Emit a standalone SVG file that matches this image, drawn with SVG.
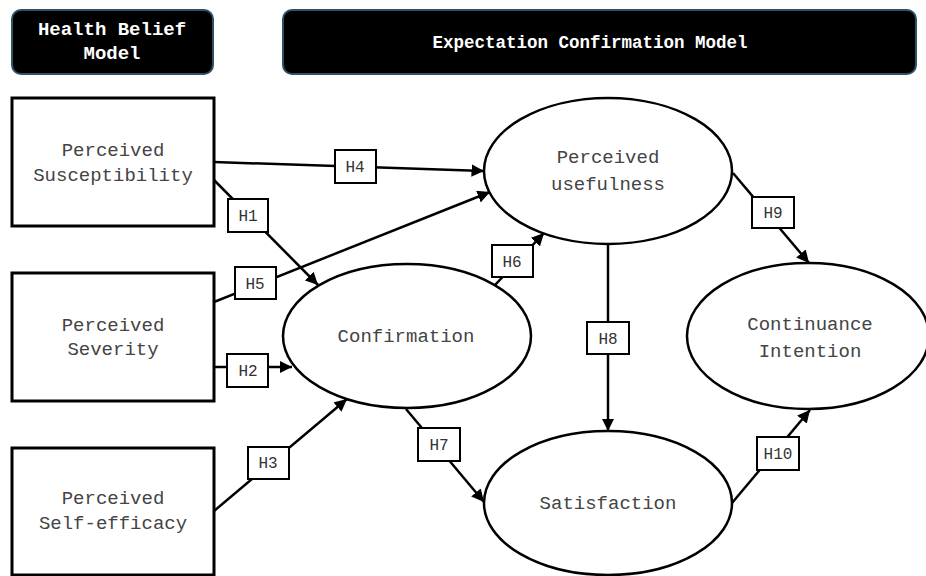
<svg xmlns="http://www.w3.org/2000/svg" width="926" height="576" viewBox="0 0 926 576">
<defs>
<marker id="arr" viewBox="0 0 10 10" refX="10" refY="5" markerWidth="5" markerHeight="5" orient="auto" markerUnits="strokeWidth">
<path d="M0,0 L10,5 L0,10 z" fill="#000"/>
</marker>
<style>
.hdr{fill:#000;stroke:#2f5366;stroke-width:2}
.htxt{font-family:"Courier New","Liberation Mono",monospace;font-weight:bold;font-size:19px;fill:#fff;text-anchor:middle}
.box{fill:#fff;stroke:#000;stroke-width:3}
.ell{fill:#fff;stroke:#000;stroke-width:2.5}
.ntxt{font-family:"Courier New","Liberation Mono",monospace;font-size:19px;fill:#444;text-anchor:middle}
.edge{stroke:#000;stroke-width:2.5;fill:none;marker-end:url(#arr)}
.lbl{fill:#fff;stroke:#000;stroke-width:2}
.ltxt{font-family:"Courier New","Liberation Mono",monospace;font-size:16px;fill:#333;text-anchor:middle}
</style>
</defs>
<rect width="926" height="576" fill="#fff"/>
<g id="hbm-header">
<rect class="hdr" x="12" y="10" width="201" height="64" rx="9"/>
<text class="htxt" x="112" y="35">Health Belief</text>
<text class="htxt" x="112" y="59">Model</text>
</g>
<g id="ecm-header">
<rect class="hdr" x="283" y="10" width="633" height="64" rx="9"/>
<text class="htxt" x="590" y="48" style="font-size:17.5px">Expectation Confirmation Model</text>
</g>
<g id="connectors">
<line class="edge" x1="214" y1="162" x2="484" y2="171"/>
<line class="edge" x1="214" y1="180" x2="318" y2="285"/>
<line class="edge" x1="214" y1="302" x2="490" y2="192"/>
<line class="edge" x1="495" y1="285" x2="544" y2="233"/>
<line class="edge" x1="214" y1="367" x2="292" y2="367"/>
<line class="edge" x1="214" y1="511" x2="347" y2="399"/>
<line class="edge" x1="406" y1="409" x2="484" y2="502"/>
<line class="edge" x1="608" y1="244" x2="608" y2="431"/>
<line class="edge" x1="733" y1="173" x2="809" y2="263"/>
<line class="edge" x1="732" y1="503" x2="810" y2="410"/>
<g id="labels">
<rect class="lbl" x="228" y="199" width="40" height="33"/><text class="ltxt" x="248" y="221">H1</text>
<rect class="lbl" x="227" y="354" width="41" height="33"/><text class="ltxt" x="248" y="376">H2</text>
<rect class="lbl" x="248" y="447" width="41" height="32"/><text class="ltxt" x="268" y="468">H3</text>
<rect class="lbl" x="335" y="150" width="41" height="33"/><text class="ltxt" x="355" y="172">H4</text>
<rect class="lbl" x="235" y="267" width="41" height="32"/><text class="ltxt" x="255" y="289">H5</text>
<rect class="lbl" x="492" y="245" width="41" height="32"/><text class="ltxt" x="512" y="267">H6</text>
<rect class="lbl" x="418" y="428" width="42" height="33"/><text class="ltxt" x="439" y="450">H7</text>
<rect class="lbl" x="587" y="322" width="42" height="32"/><text class="ltxt" x="608" y="344">H8</text>
<rect class="lbl" x="752" y="197" width="42" height="31"/><text class="ltxt" x="773" y="218">H9</text>
<rect class="lbl" x="757" y="437" width="42" height="33"/><text class="ltxt" x="778" y="459">H10</text>
</g>
</g>
<g id="perceived-susceptibility">
<rect class="box" x="12" y="98" width="202" height="128"/>
<text class="ntxt" x="113" y="156">Perceived</text>
<text class="ntxt" x="113" y="181">Susceptibility</text>
</g>
<g id="perceived-severity">
<rect class="box" x="12" y="273" width="202" height="128"/>
<text class="ntxt" x="113" y="331">Perceived</text>
<text class="ntxt" x="113" y="355">Severity</text>
</g>
<g id="perceived-self-efficacy">
<rect class="box" x="12" y="448" width="202" height="127"/>
<text class="ntxt" x="113" y="504">Perceived</text>
<text class="ntxt" x="113" y="529">Self-efficacy</text>
</g>
<g id="perceived-usefulness">
<ellipse class="ell" cx="608" cy="171" rx="124" ry="73"/>
<text class="ntxt" x="608" y="163">Perceived</text>
<text class="ntxt" x="608" y="190">usefulness</text>
</g>
<g id="confirmation">
<ellipse class="ell" cx="407" cy="336" rx="124" ry="72"/>
<text class="ntxt" x="406" y="342">Confirmation</text>
</g>
<g id="continuance-intention">
<ellipse class="ell" cx="808" cy="336" rx="121" ry="73"/>
<text class="ntxt" x="810" y="330">Continuance</text>
<text class="ntxt" x="810" y="357">Intention</text>
</g>
<g id="satisfaction">
<ellipse class="ell" cx="608" cy="503" rx="124" ry="72"/>
<text class="ntxt" x="608" y="509">Satisfaction</text>
</g>
</svg>
